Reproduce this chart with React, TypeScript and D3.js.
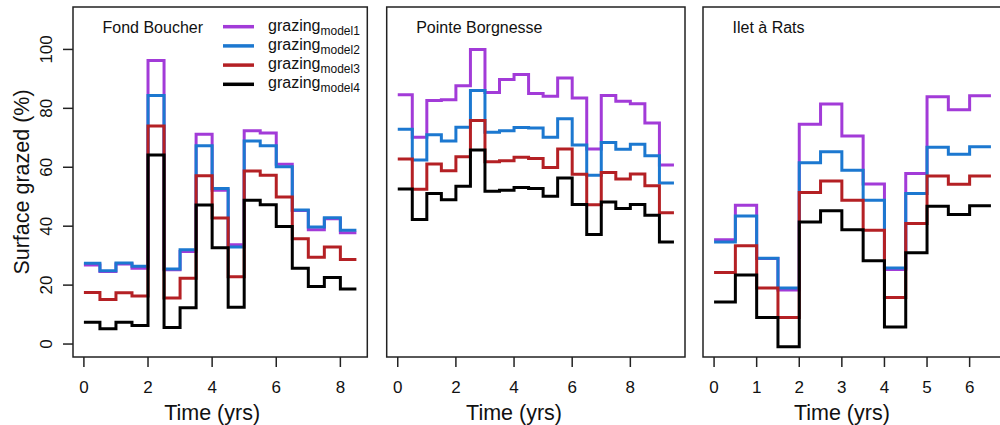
import React from 'react';
import * as d3 from 'd3';

// interval start times (last entry is the end of the final step)
const timesFond = [0, 0.5, 1, 1.5, 2, 2.5, 3, 3.5, 4, 4.5, 5, 5.5, 6, 6.5, 7, 7.5, 8, 8.5];
const timesPointe = [0, 0.5, 1, 1.5, 2, 2.5, 3, 3.5, 4, 4.5, 5, 5.5, 6, 6.5, 7, 7.5, 8, 8.5, 9, 9.5];
const timesIlet = [0, 0.5, 1, 1.5, 2, 2.5, 3, 3.5, 4, 4.5, 5, 5.5, 6, 6.5];

const fondModel1 = [26.8, 24.6, 27.2, 25.7, 96.2, 25.2, 31.4, 71.2, 52.2, 33.7, 72.4, 71.6, 61, 45.3, 38.8, 42.5, 37.8];
const fondModel2 = [27.4, 24.9, 27.5, 26.4, 84.4, 25.5, 32, 67.3, 52.8, 32.9, 68.9, 67.3, 60.2, 45.5, 39.7, 42.9, 38.6];
const fondModel3 = [17.5, 15.1, 17.4, 16.3, 74, 15.6, 22.3, 57.1, 42.8, 22.8, 58.7, 57.3, 49.9, 35.7, 29.5, 32.9, 28.7];
const fondModel4 = [7.4, 5.2, 7.4, 6.3, 64.2, 5.6, 12.3, 47.2, 32.7, 12.5, 48.8, 47.3, 39.9, 25.7, 19.5, 22.6, 18.7];

const pointeModel1 = [84.6, 70.2, 82.7, 82.9, 87.7, 100, 85.4, 89.8, 91.5, 85, 84.1, 90.3, 83.5, 66.2, 84.4, 82.4, 81.6, 75, 60.8];
const pointeModel2 = [72.9, 62.5, 71, 68.9, 73.6, 86.1, 71.9, 72.4, 73.5, 73.3, 70.2, 76.5, 67.6, 57.3, 68.4, 66.1, 67.8, 63.9, 54.7];
const pointeModel3 = [62.8, 52.5, 61.1, 58.8, 63.6, 75.9, 61.9, 62.2, 63.4, 63, 59.9, 66.2, 57.6, 47.3, 58.2, 56, 57.7, 53.7, 44.6];
const pointeModel4 = [52.6, 42.3, 51.1, 49, 53.6, 65.9, 51.9, 52.2, 53.1, 52.8, 50.2, 56.4, 47.4, 37.2, 48.2, 46, 47.4, 43.7, 34.6];

const iletModel1 = [35.4, 47.1, 29, 18.3, 74.6, 81.5, 70.6, 54.3, 25.3, 57.9, 83.9, 79.5, 84.3];
const iletModel2 = [34.6, 43.5, 29.1, 19, 61.5, 65.3, 59, 48.8, 25.8, 51.1, 66.8, 64.4, 67];
const iletModel3 = [24.3, 33.4, 19, 9, 51.4, 55.3, 48.8, 38.6, 15.8, 40.9, 57, 54.2, 57];
const iletModel4 = [14.3, 23.4, 9, -0.9, 41.4, 45.2, 38.8, 28.3, 5.8, 31, 46.8, 44, 46.9];

const modelNames = ['model1', 'model2', 'model3', 'model4'];
const modelColors = ['#A23BD8', '#1C78D0', '#B42024', '#000000'];

const yTicks = [0, 20, 40, 60, 80, 100];

const panels = [
  { title: 'Fond Boucher', times: timesFond, series: [fondModel1, fondModel2, fondModel3, fondModel4], ticks: [0, 2, 4, 6, 8], left: 73, right: 367.3 },
  { title: 'Pointe Borgnesse', times: timesPointe, series: [pointeModel1, pointeModel2, pointeModel3, pointeModel4], ticks: [0, 2, 4, 6, 8], left: 386.7, right: 685 },
  { title: 'Ilet à Rats', times: timesIlet, series: [iletModel1, iletModel2, iletModel3, iletModel4], ticks: [0, 1, 2, 3, 4, 5, 6], left: 703, right: 1002 },
];

const top = 7;
const bottom = 357;
const font = '"Liberation Sans", Arial, Helvetica, sans-serif';

export default function App() {
  // R style 4% padding on each side of the data range
  const y = d3.scaleLinear().domain([-4.4, 114.4]).range([bottom, top]);

  return (
    <svg width={1000} height={425} style={{ position: 'absolute', left: 0, top: 0, background: '#fff' }} fontFamily={font}>
      {panels.map((p, pi) => {
        const tMin = p.times[0];
        const tMax = p.times[p.times.length - 1];
        const pad = (tMax - tMin) * 0.04;
        const x = d3.scaleLinear().domain([tMin - pad, tMax + pad]).range([p.left, p.right]);
        const line = d3.line<[number, number]>()
          .x(d => x(d[0]))
          .y(d => y(d[1]))
          .curve(d3.curveStepAfter);
        return (
          <g key={p.title}>
            <defs>
              <clipPath id={`clip${pi}`}>
                <rect x={p.left} y={top} width={p.right - p.left} height={bottom - top} />
              </clipPath>
            </defs>
            <g clipPath={`url(#clip${pi})`}>
              {p.series.map((vals, si) => {
                const pts: [number, number][] = vals.map((v, i) => [p.times[i], v]);
                pts.push([tMax, vals[vals.length - 1]]);
                return (
                  <path key={si} d={line(pts) || ''} fill="none" stroke={modelColors[si]}
                    strokeWidth={3} strokeLinejoin="miter" strokeLinecap="butt" />
                );
              })}
            </g>
            <rect x={p.left} y={top} width={p.right - p.left} height={bottom - top}
              fill="none" stroke="#222" strokeWidth={1.5} />
            <text x={p.left + 29.5} y={33} fontSize={16} fill="#111">{p.title}</text>
            {p.ticks.map(t => (
              <g key={t}>
                <line x1={x(t)} x2={x(t)} y1={bottom} y2={bottom + 10} stroke="#222" strokeWidth={1.5} />
                <text x={x(t)} y={393} fontSize={17} textAnchor="middle" fill="#111">{t}</text>
              </g>
            ))}
            <text x={(x(tMin) + x(p.ticks[p.ticks.length - 1])) / 2 + (pi === 2 ? 0 : 0)} y={420}
              fontSize={21.5} textAnchor="middle" fill="#111">Time (yrs)</text>
          </g>
        );
      })}

      {/* y axis on the first panel */}
      {yTicks.map(t => (
        <g key={t}>
          <line x1={63} x2={73} y1={y(t)} y2={y(t)} stroke="#222" strokeWidth={1.5} />
          <text transform={`translate(52,${y(t)}) rotate(-90)`} fontSize={17} textAnchor="middle" fill="#111">{t}</text>
        </g>
      ))}
      <text transform={`translate(29,${(top + bottom) / 2}) rotate(-90)`} fontSize={21.5} textAnchor="middle" fill="#111">
        Surface grazed (%)
      </text>

      {/* legend */}
      {modelNames.map((m, i) => {
        const ly = 26.7 + i * 19.2;
        return (
          <g key={m}>
            <line x1={223} x2={254} y1={ly} y2={ly} stroke={modelColors[i]} strokeWidth={3.5} />
            <text x={268} y={ly + 4} fontSize={16} fill="#111">
              grazing<tspan fontSize={12} dy={4}>{m}</tspan>
            </text>
          </g>
        );
      })}
    </svg>
  );
}
